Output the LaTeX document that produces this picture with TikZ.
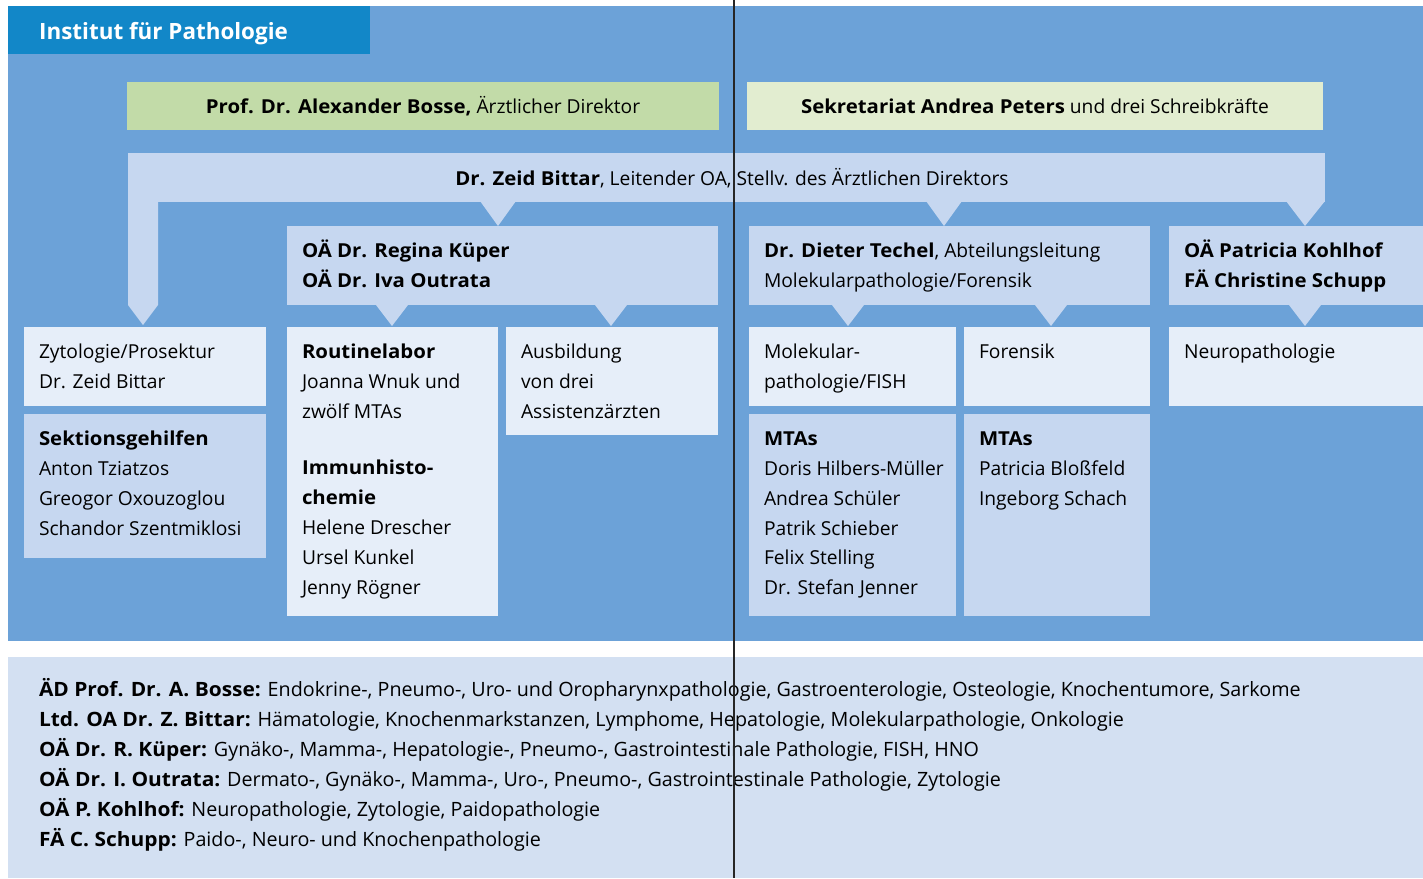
\documentclass[tikz,border=0pt]{standalone}
\usepackage{fontspec}
\setmainfont{Open Sans}[BoldFeatures={FakeStretch=1.06}]
\newfontfamily\headfont{Open Sans}
\definecolor{bgblue}{RGB}{108,162,216}
\definecolor{headblue}{RGB}{18,135,200}
\definecolor{medbox}{RGB}{198,215,240}
\definecolor{lightbox}{RGB}{230,238,249}
\definecolor{botbox}{RGB}{211,224,242}
\definecolor{green1}{RGB}{194,219,168}
\definecolor{green2}{RGB}{226,237,208}
\newcommand\mainfs{\fontsize{19.3}{30}\selectfont}
\newcommand\botfs{\fontsize{19.8}{30}\selectfont}
\begin{document}
\begin{tikzpicture}[x=1bp,y=-1bp,
  box/.style={anchor=north west, inner sep=0pt, outer sep=0pt, draw=none},
  txt/.style={anchor=north west, inner sep=0pt, outer sep=0pt, align=left, font=\mainfs, text=black},
  ctxt/.style={anchor=base, inner sep=0pt, outer sep=0pt, font=\mainfs, text=black},
  tri/.style={fill=medbox, draw=none}
]
\useasboundingbox (0,0) rectangle (1423,878);
\fill[white] (0,0) rectangle (1423,878);
% boxes
\node[box, fill=bgblue, minimum width=1415bp, minimum height=635bp] (bg) at (8,6) {};
\node[box, fill=headblue, minimum width=362bp, minimum height=48bp] (head) at (8,6) {};
\node[box, fill=green1, minimum width=592bp, minimum height=48bp] (bosse) at (127,82) {};
\node[box, fill=green2, minimum width=576bp, minimum height=48bp] (sekr) at (747,82) {};
\node[box, fill=medbox, minimum width=1197bp, minimum height=49bp] (bar) at (128,153) {};
\node[box, fill=medbox, minimum width=431bp, minimum height=79bp] (kueper) at (287,226) {};
\node[box, fill=medbox, minimum width=401bp, minimum height=79bp] (techel) at (749,226) {};
\node[box, fill=medbox, minimum width=254bp, minimum height=79bp] (kohlhof) at (1169,226) {};
\node[box, fill=lightbox, minimum width=242bp, minimum height=79bp] (zyto) at (24,327) {};
\node[box, fill=medbox, minimum width=242bp, minimum height=144bp] (sekt) at (24,414) {};
\node[box, fill=lightbox, minimum width=211bp, minimum height=289bp] (routine) at (287,327) {};
\node[box, fill=lightbox, minimum width=212bp, minimum height=108bp] (ausb) at (506,327) {};
\node[box, fill=lightbox, minimum width=207bp, minimum height=79bp] (molek) at (749,327) {};
\node[box, fill=lightbox, minimum width=186bp, minimum height=79bp] (foren) at (964,327) {};
\node[box, fill=lightbox, minimum width=254bp, minimum height=79bp] (neuro) at (1169,327) {};
\node[box, fill=medbox, minimum width=207bp, minimum height=202bp] (mtal) at (749,414) {};
\node[box, fill=medbox, minimum width=186bp, minimum height=202bp] (mtar) at (964,414) {};
\node[box, fill=botbox, minimum width=1415bp, minimum height=221bp] (bottom) at (8,657) {};
% connectors (triangles and leg)
\fill[tri] (128,201) -- (128,305) -- (143,325) -- (158,305) -- (158,201) -- cycle;
\fill[tri] (480,201) -- (516,201) -- (498,226) -- cycle;
\fill[tri] (926,201) -- (962,201) -- (944,226) -- cycle;
\fill[tri] (1286,201) -- (1325,201) -- (1305,226) -- cycle;
\fill[tri] (376,305) -- (408,305) -- (392,326) -- cycle;
\fill[tri] (595,305) -- (627,305) -- (611,326) -- cycle;
\fill[tri] (832,305) -- (864,305) -- (848,326) -- cycle;
\fill[tri] (1035,305) -- (1067,305) -- (1051,326) -- cycle;
\fill[tri] (1289,305) -- (1321,305) -- (1305,326) -- cycle;
% texts
\node[anchor=base west, inner sep=0pt, text=white, font=\fontsize{22.5}{27}\headfont\bfseries] (headt) at (39,39) {Institut für Pathologie};
\node[ctxt] (bosset) at (423,113) {\textbf{Prof. Dr. Alexander Bosse,} Ärztlicher Direktor};
\node[ctxt] (sekrt) at (1035,113) {\textbf{Sekretariat Andrea Peters} und drei Schreibkräfte};
\node[ctxt] (bart) at (732,185) {\textbf{Dr. Zeid Bittar}, Leitender OA, Stellv. des Ärztlichen Direktors};
\node[txt] (kuepert) at (302,236.5) {\strut\textbf{OÄ Dr. Regina Küper}\\\textbf{OÄ Dr. Iva Outrata}};
\node[txt] (techelt) at (764,236.5) {\strut\textbf{Dr. Dieter Techel}, Abteilungsleitung\\Molekularpathologie/Forensik};
\node[txt] (kohlhoft) at (1184,236.5) {\strut\textbf{OÄ Patricia Kohlhof}\\\textbf{FÄ Christine Schupp}};
\node[txt] (zytot) at (39,337.5) {\strut Zytologie/Prosektur\\Dr. Zeid Bittar};
\node[txt] (sektt) at (39,424.5) {\strut\textbf{Sektionsgehilfen}\\Anton Tziatzos\\Greogor Oxouzoglou\\Schandor Szentmiklosi};
\node[txt] (routinet) at (302,337.5) {\strut\textbf{Routinelabor}\\Joanna Wnuk und\\zwölf MTAs};
\node[txt] (immunt) at (302,454) {\strut\textbf{Immunhisto-}\\\textbf{chemie}\\Helene Drescher\\Ursel Kunkel\\Jenny Rögner};
\node[txt] (ausbt) at (521,337.5) {\strut Ausbildung\\von drei\\Assistenzärzten};
\node[txt] (molekt) at (764,337.5) {\strut Molekular-\\pathologie/FISH};
\node[txt] (forent) at (979,337.5) {\strut Forensik};
\node[txt] (neurot) at (1184,337.5) {\strut Neuropathologie};
\node[txt] (mtalt) at (764,424.5) {\strut\textbf{MTAs}\\Doris Hilbers-Müller\\Andrea Schüler\\Patrik Schieber\\Felix Stelling\\Dr. Stefan Jenner};
\node[txt] (mtart) at (979,424.5) {\strut\textbf{MTAs}\\Patricia Bloßfeld\\Ingeborg Schach};
\node[txt, font=\botfs] (bottomt) at (39,676) {\strut\textbf{ÄD Prof. Dr. A. Bosse:} Endokrine-, Pneumo-, Uro- und Oropharynxpathologie, Gastroenterologie, Osteologie, Knochentumore, Sarkome\\
\textbf{Ltd. OA Dr. Z. Bittar:} Hämatologie, Knochenmarkstanzen, Lymphome, Hepatologie, Molekularpathologie, Onkologie\\
\textbf{OÄ Dr. R. Küper:} Gynäko-, Mamma-, Hepatologie-, Pneumo-, Gastrointestinale Pathologie, FISH, HNO\\
\textbf{OÄ Dr. I. Outrata:} Dermato-, Gynäko-, Mamma-, Uro-, Pneumo-, Gastrointestinale Pathologie, Zytologie\\
\textbf{OÄ P. Kohlhof:} Neuropathologie, Zytologie, Paidopathologie\\
\textbf{FÄ C. Schupp:} Paido-, Neuro- und Knochenpathologie};
% vertical line
\coordinate (ltop) at (734,0);
\coordinate (lbot) at (734,878);
\draw[line width=1.5bp, draw=black!85] (ltop) -- (lbot);
\end{tikzpicture}
\end{document}
